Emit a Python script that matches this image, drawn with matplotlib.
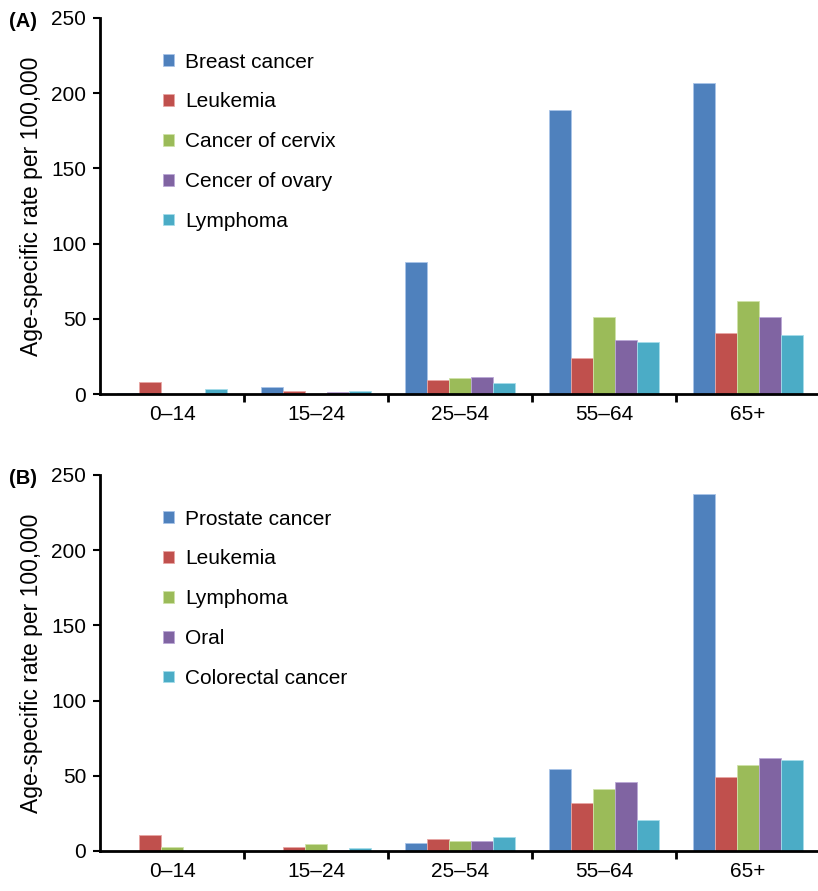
import numpy as np
import matplotlib
matplotlib.use('Agg')
import matplotlib.pyplot as plt
from matplotlib.ticker import FixedLocator

plt.rcParams['font.family'] = ['Liberation Sans', 'DejaVu Sans']

#---------------------DATA---------------------#
age_groups = ['0\u201314', '15\u201324', '25\u201354', '55\u201364', '65+']

# (A) women
labels_a = ['Breast cancer', 'Leukemia', 'Cancer of cervix', 'Cencer of ovary', 'Lymphoma']
breast = [0.6, 4.5, 88, 189, 207]
leuk_a = [8, 2.2, 9.5, 24, 40.3]
cervix = [0, 0, 10.5, 51.2, 61.6]
ovary = [0, 1.5, 11.2, 35.7, 51.4]
lymph_a = [3.3, 2.2, 7, 34.8, 39.2]

# (B) men
labels_b = ['Prostate cancer', 'Leukemia', 'Lymphoma', 'Oral', 'Colorectal cancer']
prostate = [0, 0, 5, 54.2, 237.6]
leuk_b = [10.5, 2.4, 8, 32.2, 49.5]
lymph_b = [2.9, 4.7, 6.9, 41.1, 57]
oral = [0, 0.7, 6.9, 45.8, 61.8]
colorectal = [0, 1.8, 9.6, 20.7, 60.7]

colors = ['#4F81BD', '#C0504D', '#9BBB59', '#8064A2', '#4BACC6']
edges = ['#A9C4E8', '#E8A6A4', '#CFE3A8', '#BBA8D6', '#A6DDEA']

#---------------------PLOT---------------------#
fig = plt.figure(figsize=(8.18, 8.91), dpi=100)
W, H = 818, 891
ax_a = fig.add_axes([100 / W, (H - 394) / H, 720 / W, 376 / H])
ax_b = fig.add_axes([100 / W, (H - 851) / H, 720 / W, 376 / H])


def draw_panel(ax, series, labels, tag):
    x = np.arange(len(age_groups))
    bw = 0.152
    for i, (vals, lab) in enumerate(zip(series, labels)):
        ax.bar(x + (i - 2) * bw, vals, width=bw, color=colors[i],
               edgecolor=edges[i], linewidth=0.6, label=lab)
    ax.set_xlim(-0.5, 4.5)
    ax.set_ylim(0, 250)
    ax.set_yticks([0, 50, 100, 150, 200, 250])
    ax.set_xticks(x)
    ax.set_xticklabels(age_groups)
    ax.xaxis.set_minor_locator(FixedLocator([0.5, 1.5, 2.5, 3.5]))
    ax.tick_params(axis='x', which='major', length=0, pad=8, labelsize=15)
    ax.tick_params(axis='x', which='minor', length=6, width=2, direction='out')
    ax.tick_params(axis='y', length=5, width=1.5, direction='out', labelsize=15, pad=5)
    for s in ['top', 'right']:
        ax.spines[s].set_visible(False)
    ax.spines['left'].set_linewidth(2)
    ax.spines['bottom'].set_linewidth(2)
    ax.set_ylabel('Age-specific rate per 100,000', fontsize=16.5, labelpad=6)
    ax.legend(loc='upper left', bbox_to_anchor=(0.062, 0.958), frameon=False,
              fontsize=15, handlelength=0.5, handleheight=0.5,
              handletextpad=0.55, labelspacing=1.0)
    ax.text(-0.126, 0.99, tag, transform=ax.transAxes, fontsize=14.5,
            fontweight='bold', ha='left', va='center')


draw_panel(ax_a, [breast, leuk_a, cervix, ovary, lymph_a], labels_a, '(A)')
draw_panel(ax_b, [prostate, leuk_b, lymph_b, oral, colorectal], labels_b, '(B)')

fig.savefig('out.png', dpi=100)
